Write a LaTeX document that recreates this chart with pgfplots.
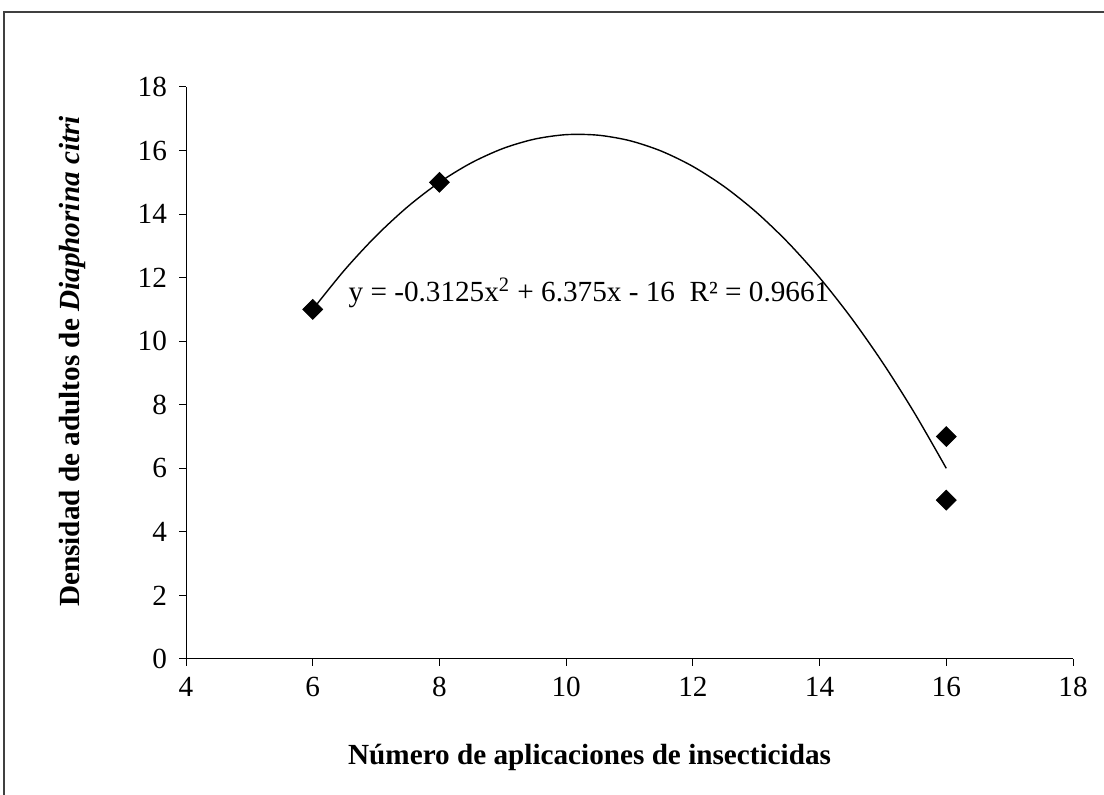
\documentclass[border=0pt]{standalone}
\usepackage{pgfplots}
\pgfplotsset{compat=1.18}
\usepackage{fontspec}
\setmainfont{Liberation Serif}
\begin{document}
\begin{tikzpicture}
\path[use as bounding box] (0,0) rectangle (552pt,397.5pt);
\draw[line width=0.6pt, color=black!75] (2pt,0) -- (2pt,391.5pt) -- (552pt,391.5pt);
\begin{axis}[
  at={(93pt,68pt)}, anchor=south west,
  scale only axis, width=443.5pt, height=286pt,
  xmin=4, xmax=18, ymin=0, ymax=18,
  xtick={4,6,...,18}, ytick={0,2,...,18},
  axis x line=bottom, axis y line=left,
  axis line style={-, line width=0.5pt},
  tick style={line width=0.5pt, black},
  tick align=outside, major tick length=3.5pt,
  font=\fontsize{14.6}{17.5}\selectfont,
  /pgf/number format/assume math mode=true,
  yticklabel style={xshift=-2.5pt},
  xticklabel style={yshift=-2pt},
  xlabel={\bfseries Número de aplicaciones de insecticidas},
  ylabel={\bfseries Densidad de adultos de \textit{Diaphorina citri}},
  xlabel style={at={(axis description cs:0.455,-0.173)}, anchor=center},
  ylabel style={at={(axis description cs:-0.128,0.52)}, anchor=center},
  clip=false,
]
\addplot[black, line width=0.7pt, smooth, no marks] coordinates {
 (6,11) (6.5,12.234) (7,13.3125) (7.5,14.234) (8,15) (8.5,15.609) (9,16.0625)
 (9.5,16.359) (10,16.5) (10.5,16.484) (11,16.3125) (11.5,15.984) (12,15.5)
 (12.5,14.859) (13,14.0625) (13.5,13.109) (14,12) (14.5,10.734) (15,9.3125)
 (15.5,7.734) (16,6)
};
\addplot[only marks, mark=square*, mark size=3.5pt, mark options={rotate=45, fill=black, draw=black}] coordinates {
 (6,11) (8,15) (16,7) (16,5)
};
\node[anchor=center] at (axis cs:10.36,11.52) {y = -0.3125x\textsuperscript{2} + 6.375x - 16\ \ R² = 0.9661};
\end{axis}
\end{tikzpicture}
\end{document}
